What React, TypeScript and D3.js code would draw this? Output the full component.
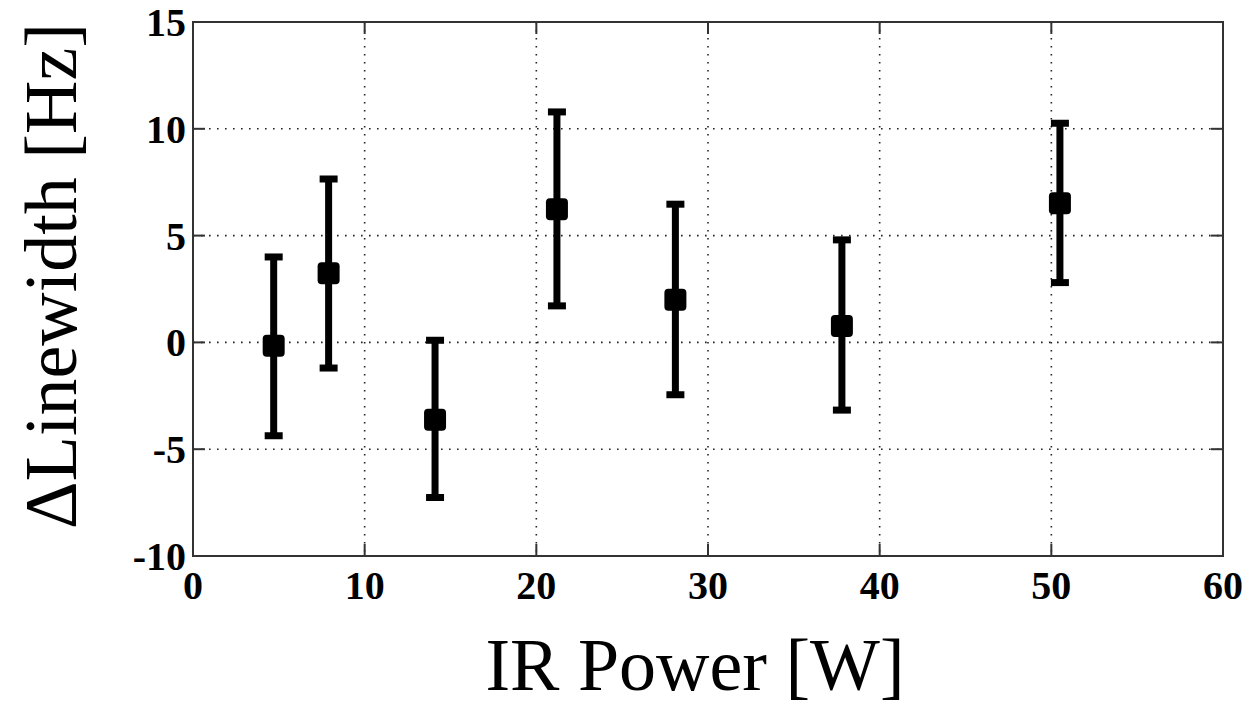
import React, { useEffect, useRef } from 'react'
import { select, scaleLinear } from 'd3'

// data
const power = [4.7, 7.9, 14.1, 21.2, 28.1, 37.8, 50.5]
const dLinewidth = [-0.16, 3.24, -3.62, 6.23, 2.0, 0.77, 6.52]
const errUpper = [4.0, 7.65, 0.1, 10.79, 6.47, 4.8, 10.26]
const errLower = [-4.37, -1.2, -7.26, 1.71, -2.45, -3.17, 2.8]

const xTicks = [0, 10, 20, 30, 40, 50, 60]
const yTicks = [-10, -5, 0, 5, 10, 15]

function Chart() {
  const ref = useRef<SVGSVGElement>(null)

  useEffect(() => {
    const W = 1247, H = 708
    const margin = { top: 22, right: 24, bottom: 152, left: 193 }
    const width = W - margin.left - margin.right
    const height = H - margin.top - margin.bottom

    const svg = select(ref.current)
    svg.selectAll('*').remove()
    svg.append('rect').attr('width', W).attr('height', H).attr('fill', '#fff')

    const g = svg.append('g').attr('transform', `translate(${margin.left},${margin.top})`)

    const x = scaleLinear().domain([0, 60]).range([0, width])
    const y = scaleLinear().domain([-10, 15]).range([height, 0])

    // dotted grid
    g.selectAll('.gx').data(xTicks.slice(1, -1)).enter().append('line')
      .attr('x1', d => x(d)).attr('x2', d => x(d))
      .attr('y1', 0).attr('y2', height)
      .style('stroke', '#222').style('stroke-width', 1.6)
      .style('stroke-dasharray', '1.6,6.4')
    g.selectAll('.gy').data(yTicks.slice(1, -1)).enter().append('line')
      .attr('y1', d => y(d)).attr('y2', d => y(d))
      .attr('x1', 0).attr('x2', width)
      .style('stroke', '#222').style('stroke-width', 1.6)
      .style('stroke-dasharray', '1.6,6.4')

    // inward ticks on all four sides
    const tl = 12
    xTicks.forEach(t => {
      g.append('line').attr('x1', x(t)).attr('x2', x(t)).attr('y1', height).attr('y2', height - tl)
        .style('stroke', '#333').style('stroke-width', 2)
      g.append('line').attr('x1', x(t)).attr('x2', x(t)).attr('y1', 0).attr('y2', tl)
        .style('stroke', '#333').style('stroke-width', 2)
    })
    yTicks.forEach(t => {
      g.append('line').attr('y1', y(t)).attr('y2', y(t)).attr('x1', 0).attr('x2', tl)
        .style('stroke', '#333').style('stroke-width', 2)
      g.append('line').attr('y1', y(t)).attr('y2', y(t)).attr('x1', width).attr('x2', width - tl)
        .style('stroke', '#333').style('stroke-width', 2)
    })

    g.append('rect').attr('width', width).attr('height', height)
      .attr('fill', 'none').style('stroke', '#333').style('stroke-width', 2)

    // tick labels
    const font = '"Liberation Serif", "Times New Roman", serif'
    g.selectAll('.xl').data(xTicks).enter().append('text')
      .attr('x', d => x(d)).attr('y', height + 43)
      .attr('text-anchor', 'middle')
      .style('font-family', font).style('font-weight', 'bold').style('font-size', '40px')
      .text(d => d)
    g.selectAll('.yl').data(yTicks).enter().append('text')
      .attr('x', -7).attr('y', d => y(d) + 14)
      .attr('text-anchor', 'end')
      .style('font-family', font).style('font-weight', 'bold').style('font-size', '40px')
      .text(d => d)

    // error bars
    const cap = 9
    power.forEach((p, i) => {
      const cx = x(p)
      g.append('line').attr('x1', cx).attr('x2', cx)
        .attr('y1', y(errUpper[i])).attr('y2', y(errLower[i]))
        .style('stroke', '#000').style('stroke-width', 7)
      ;[errUpper[i], errLower[i]].forEach(v => {
        g.append('line').attr('x1', cx - cap).attr('x2', cx + cap)
          .attr('y1', y(v)).attr('y2', y(v))
          .style('stroke', '#000').style('stroke-width', 7)
      })
      g.append('rect').attr('x', cx - 11).attr('y', y(dLinewidth[i]) - 11)
        .attr('width', 22).attr('height', 22).attr('rx', 4)
        .attr('fill', '#000')
    })

    // axis titles
    svg.append('text')
      .attr('x', 695).attr('y', 690)
      .attr('text-anchor', 'middle')
      .style('font-family', font).style('font-size', '74px')
      .text('IR Power [W]')
    svg.append('text')
      .attr('transform', `translate(76, ${margin.top + 254}) rotate(-90)`)
      .attr('text-anchor', 'middle')
      .style('font-family', font).style('font-size', '74px')
      .text('ΔLinewidth [Hz]')
  }, [])

  return <svg ref={ref} width={1247} height={708} style={{ position: 'absolute', left: 0, top: 0 }} />
}

export default function App() {
  return <Chart />
}
